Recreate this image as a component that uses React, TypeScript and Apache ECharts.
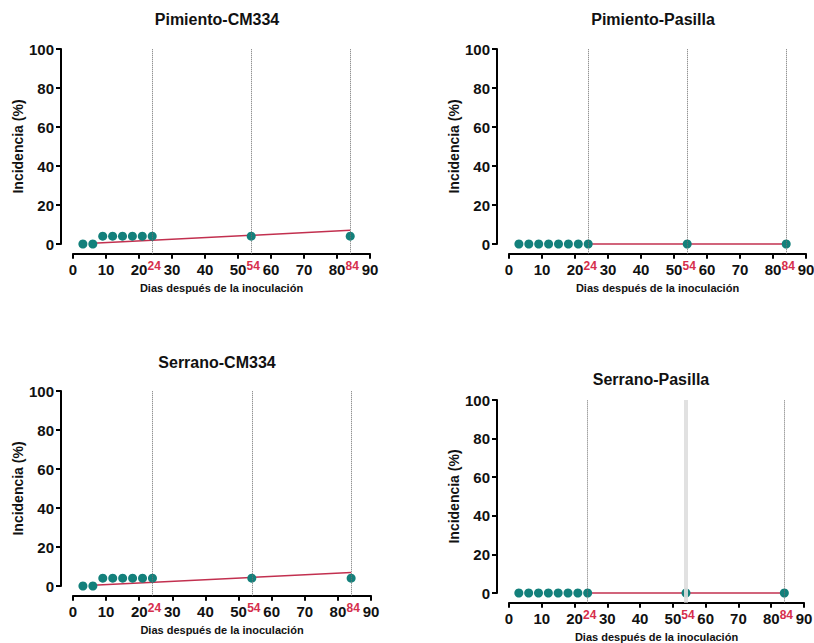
import React, { useEffect, useRef } from 'react';
import * as echarts from 'echarts';

// Sampling days after inoculation and disease incidence (%)
const days = [3, 6, 9, 12, 15, 18, 21, 24, 54, 84];
const pimientoCM334 = [0, 0, 4, 4, 4, 4, 4, 4, 4, 4];
const pimientoPasilla = [0, 0, 0, 0, 0, 0, 0, 0, 0, 0];
const serranoCM334 = [0, 0, 4, 4, 4, 4, 4, 4, 4, 4];
const serranoPasilla = [0, 0, 0, 0, 0, 0, 0, 0, 0, 0];

// Fitted trend segments [day, incidence]
const fitPimientoCM334 = [[6, 0.4], [84, 7.0]];
const fitPimientoPasilla = [[24, 0], [84, 0]];
const fitSerranoCM334 = [[6, 0.4], [84, 6.9]];
const fitSerranoPasilla = [[24, 0], [84, 0]];

// Key evaluation days marked on the time axis
const evalDays = [24, 54, 84];

const titles = ['Pimiento-CM334', 'Pimiento-Pasilla', 'Serrano-CM334', 'Serrano-Pasilla'];
const seriesValues = [pimientoCM334, pimientoPasilla, serranoCM334, serranoPasilla];
const fits = [fitPimientoCM334, fitPimientoPasilla, fitSerranoCM334, fitSerranoPasilla];

const X_MIN = 0;
const X_MAX = 90;
const X_STEP = 10;
const Y_MIN = 0;
const Y_MAX = 100;
const Y_STEP = 20;
const Y_FLOOR = -5; // room below zero before the day axis

const xAxisName = 'Dias después de la inoculación';
const yAxisName = 'Incidencia (%)';

// Panel placement in pixels
const frames = [
  { x0: 73, x1: 370, top: 49, zero: 244, titleX: 217, titleY: 19, soft: null as number | null },
  { x0: 509, x1: 806, top: 49, zero: 244, titleX: 653, titleY: 19, soft: null as number | null },
  { x0: 73, x1: 371, top: 391, zero: 586, titleX: 217, titleY: 362, soft: null as number | null },
  { x0: 509, x1: 804, top: 400, zero: 593, titleX: 651, titleY: 379, soft: 54 as number | null },
];

const FONT = 'Liberation Sans, Arial, Helvetica, sans-serif';
const TEAL = '#13807b';
const RED = '#c2304f';
const LABEL_RED = '#d62e4c';

function buildOption() {
  const grid: any[] = [];
  const xAxis: any[] = [];
  const yAxis: any[] = [];
  const series: any[] = [];
  const graphic: any[] = [];

  frames.forEach((f, i) => {
    const width = f.x1 - f.x0;
    const span = f.zero - f.top;
    const mainHeight = (span * (Y_MAX - Y_FLOOR)) / (Y_MAX - Y_MIN);

    // data grid (extends below zero down to the day axis)
    grid.push({ left: f.x0, top: f.top, width, height: mainHeight, containLabel: false, outerBoundsMode: 'none' });
    // frame grid for the incidence axis (0 to 100 only)
    grid.push({ left: f.x0, top: f.top, width, height: span, containLabel: false, outerBoundsMode: 'none' });

    const gMain = i * 2;
    const gFrame = i * 2 + 1;

    xAxis.push({
      type: 'value',
      gridIndex: gMain,
      min: X_MIN,
      max: X_MAX,
      interval: X_STEP,
      position: 'bottom',
      name: xAxisName,
      nameLocation: 'middle',
      nameGap: 29,
      nameTextStyle: { fontSize: 11, fontWeight: 'bold', color: '#111', fontFamily: FONT },
      axisLine: { show: true, onZero: false, lineStyle: { color: '#000', width: 2 } },
      axisTick: { show: true, length: 5, lineStyle: { color: '#000', width: 2 } },
      axisLabel: { fontSize: 15, fontWeight: 'bold', color: '#111', margin: 8, fontFamily: FONT },
      splitLine: { show: false },
    });
    xAxis.push({
      type: 'value',
      gridIndex: gMain,
      min: X_MIN,
      max: X_MAX,
      position: 'bottom',
      axisLine: { show: false, onZero: false },
      axisTick: { show: false },
      axisLabel: {
        show: true,
        customValues: evalDays,
        fontSize: 12,
        fontWeight: 'bold',
        color: LABEL_RED,
        margin: 6,
        padding: [0, 0, 0, 4],
        fontFamily: FONT,
      },
      splitLine: { show: false },
    });
    xAxis.push({
      type: 'value',
      gridIndex: gFrame,
      min: X_MIN,
      max: X_MAX,
      show: false,
      axisLine: { onZero: false },
    });

    yAxis.push({
      type: 'value',
      gridIndex: gMain,
      min: Y_FLOOR,
      max: Y_MAX,
      show: false,
      axisLine: { onZero: false },
    });
    yAxis.push({
      type: 'value',
      gridIndex: gFrame,
      min: Y_MIN,
      max: Y_MAX,
      interval: Y_STEP,
      position: 'left',
      offset: 12,
      name: yAxisName,
      nameLocation: 'middle',
      nameGap: 36,
      nameTextStyle: { fontSize: 14, fontWeight: 'bold', color: '#111', fontFamily: FONT },
      axisLine: { show: true, onZero: false, lineStyle: { color: '#000', width: 2 } },
      axisTick: { show: true, length: 5, lineStyle: { color: '#000', width: 2 } },
      axisLabel: { fontSize: 15, fontWeight: 'bold', color: '#111', margin: 7, fontFamily: FONT },
      splitLine: { show: false },
    });

    const xMainIdx = i * 3;
    const yMainIdx = i * 2;

    const guideLines = evalDays.map((d) => {
      const start: any = { coord: [d, Y_FLOOR] };
      if (f.soft === d) {
        start.lineStyle = { type: 'solid', width: 4, color: '#dedede', opacity: 0.9 };
      }
      return [start, { coord: [d, Y_MAX] }];
    });

    series.push({
      type: 'line',
      name: titles[i] + ' ajuste',
      xAxisIndex: xMainIdx,
      yAxisIndex: yMainIdx,
      data: fits[i],
      showSymbol: false,
      symbol: 'none',
      lineStyle: { color: RED, width: 1.5 },
      z: 2,
      silent: true,
      markLine: {
        silent: true,
        symbol: ['none', 'none'],
        label: { show: false },
        lineStyle: { type: 'dotted', color: '#6f6f6f', width: 1 },
        data: guideLines,
      },
    });

    series.push({
      type: 'scatter',
      name: titles[i],
      xAxisIndex: xMainIdx,
      yAxisIndex: yMainIdx,
      data: days.map((d, k) => [d, seriesValues[i][k]]),
      symbol: 'circle',
      symbolSize: 9,
      itemStyle: { color: TEAL, opacity: 1 },
      z: 3,
    });

    graphic.push({
      type: 'text',
      x: f.titleX,
      y: f.titleY,
      style: {
        text: titles[i],
        fontSize: 16,
        fontWeight: 'bold',
        fontFamily: FONT,
        fill: '#111',
        align: 'center',
        verticalAlign: 'middle',
      },
    });
  });

  return {
    animation: false,
    backgroundColor: '#ffffff',
    textStyle: { fontFamily: FONT },
    grid,
    xAxis,
    yAxis,
    series,
    graphic,
  };
}

export default function App() {
  const ref = useRef<HTMLDivElement>(null);

  useEffect(() => {
    if (!ref.current) return;
    const chart = echarts.init(ref.current, undefined, { renderer: 'svg' });
    chart.setOption(buildOption() as any);
    return () => {
      chart.dispose();
    };
  }, []);

  return (
    <div
      ref={ref}
      style={{ position: 'absolute', left: 0, top: 0, width: 814, height: 643, background: '#fff' }}
    />
  );
}
